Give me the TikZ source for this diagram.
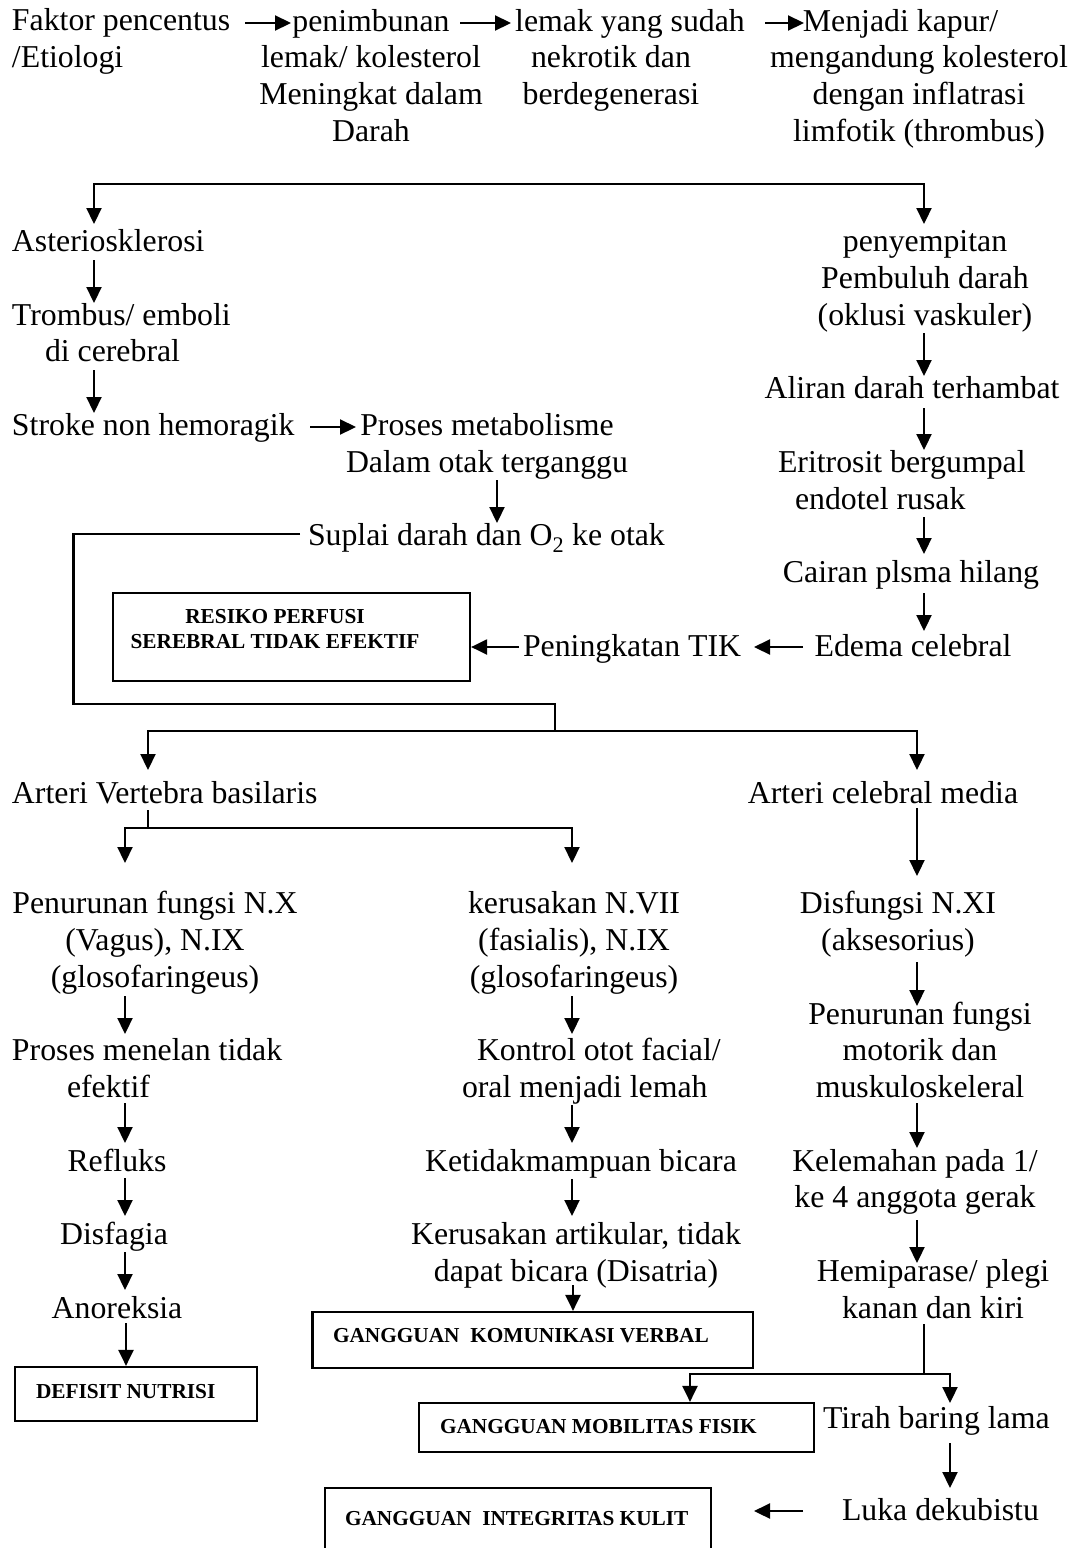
\documentclass[tikz,border=0pt]{standalone}
\usepackage{fontspec}
\setmainfont{Liberation Serif}
\usetikzlibrary{arrows.meta}
\newcommand\bigfnt{\fontsize{31.8pt}{36.78pt}\selectfont}
\newcommand\boxfnt{\fontsize{21.3pt}{25pt}\selectfont\bfseries}
\begin{document}
\begin{tikzpicture}[x=1pt,y=-1pt,
  tc/.style={font=\bigfnt,inner sep=0pt,outer sep=0pt,anchor=north,yshift=25.75pt,align=center},
  tl/.style={tc,anchor=north west,align=left},
  bc/.style={font=\boxfnt,inner sep=0pt,outer sep=0pt,anchor=north,yshift=17.5pt,align=center},
  bl/.style={bc,anchor=north west,align=left},
  bx/.style={draw,line width=2.2pt,inner sep=0pt,outer sep=1.1pt,rectangle},
  ln/.style={line width=2.2pt},
  arr/.style={line width=2.2pt,-{Triangle[length=16pt,width=15pt]}}]
\fill[white] (0,0) rectangle (1077,1548);
\useasboundingbox (0,0) rectangle (1077,1548);

% ---------- row 1 ----------
\node[tl] (fak) at (12,31) {\strut Faktor pencentus\\/Etiologi};
\node[tc] (pen) at (371,31) {\strut penimbunan\\lemak/ kolesterol\\Meningkat dalam\\Darah};
\node[tc] (lem) at (611,31) {\strut\mbox{}\hspace*{38pt}lemak yang sudah\\nekrotik dan\\berdegenerasi};
\node[tc] (kap) at (919,31) {\strut Menjadi kapur/\hspace*{37pt}\mbox{}\\mengandung kolesterol\\dengan inflatrasi\\limfotik (thrombus)};
\coordinate (r1a) at (245,23); \coordinate (r1b) at (291,23);
\coordinate (r2a) at (460,23); \coordinate (r2b) at (511,23);
\coordinate (r3a) at (765,23); \coordinate (r3b) at (804,23);
\draw[arr] (r1a) -- (r1b);
\draw[arr] (r2a) -- (r2b);
\draw[arr] (r3a) -- (r3b);

% split
\coordinate (t0) at (509,184);
\coordinate (astertop) at (94,224);
\coordinate (penytop) at (924,224);
\draw[arr] (t0) -| (astertop);
\draw[arr] (t0) -| (penytop);

% ---------- left upper ----------
\node[tl] (aster) at (12,251.7) {\strut Asteriosklerosi};
\node[tl] (tromb) at (12,325.2) {\strut Trombus/ emboli\\\hspace*{33pt}di cerebral};
\node[tl] (stroke) at (12,435.6) {\strut Stroke non hemoragik};
\node[tc] (proses) at (487,435.6) {\strut Proses metabolisme\\Dalam otak terganggu};
\node[tl] (suplai) at (308,545.9) {\strut Suplai darah dan O\textsubscript{2} ke otak};
\coordinate (a1a) at (94,260); \coordinate (a1b) at (94,303);
\coordinate (a2a) at (94,370); \coordinate (a2b) at (94,413);
\coordinate (a3a) at (310,427); \coordinate (a3b) at (356,427);
\coordinate (a4a) at (497,480); \coordinate (a4b) at (497,523);
\draw[arr] (a1a) -- (a1b);
\draw[arr] (a2a) -- (a2b);
\draw[arr] (a3a) -- (a3b);
\draw[arr] (a4a) -- (a4b);

% ---------- right upper ----------
\node[tc] (peny) at (925,251.7) {\strut penyempitan\\Pembuluh darah\\(oklusi vaskuler)};
\node[tc] (aliran) at (912,398.8) {\strut Aliran darah terhambat};
\node[tl] (eri) at (778,472.4) {\strut Eritrosit bergumpal\\\hspace*{17pt}endotel rusak};
\node[tc] (cairan) at (911,582.7) {\strut Cairan plsma hilang};
\node[tc] (edema) at (913,656.3) {\strut Edema celebral};
\node[tl] (tik) at (523,656.3) {\strut Peningkatan TIK};
\coordinate (b1a) at (924,333); \coordinate (b1b) at (924,376);
\coordinate (b2a) at (924,408); \coordinate (b2b) at (924,450);
\coordinate (b3a) at (924,517); \coordinate (b3b) at (924,554);
\coordinate (b4a) at (924,593); \coordinate (b4b) at (924,631);
\coordinate (b5a) at (803,647); \coordinate (b5b) at (754,647);
\coordinate (b6a) at (519,647);
\draw[arr] (b1a) -- (b1b);
\draw[arr] (b2a) -- (b2b);
\draw[arr] (b3a) -- (b3b);
\draw[arr] (b4a) -- (b4b);
\draw[arr] (b5a) -- (b5b);

\node[bx,minimum width=357pt,minimum height=88pt] (resiko) at (291.5,637) {};
\node[bc] (resikot) at (275,623) {\strut RESIKO PERFUSI\\SEREBRAL TIDAK EFEKTIF};
\draw[arr] (b6a) -- (b6a -| resiko.east);

% suplai connector
\coordinate (s0) at (300,534);
\coordinate (s1) at (73.5,704);
\coordinate (s2) at (555,731);
\coordinate (avbtop) at (148,770);
\coordinate (acmtop) at (917,770);
\draw[ln] (s0) -| (s1) -| (s2);
\draw[arr] (s2) -| (avbtop);
\draw[arr] (s2) -| (acmtop);

% ---------- arteri ----------
\node[tl] (avb) at (12,803.4) {\strut Arteri Vertebra basilaris};
\node[tc] (acm) at (883,803.4) {\strut Arteri celebral media};
\coordinate (v0) at (148,810);
\coordinate (v1) at (148,828);
\coordinate (pfxtop) at (125,863);
\coordinate (ker7top) at (572,863);
\draw[ln] (v0) -- (v1);
\draw[arr] (v1) -| (pfxtop);
\draw[arr] (v1) -| (ker7top);
\coordinate (c0a) at (917,808); \coordinate (c0b) at (917,876);
\draw[arr] (c0a) -- (c0b);

% ---------- column 1 ----------
\node[tc] (pfx) at (155,913.7) {\strut Penurunan fungsi N.X\\(Vagus), N.IX\\(glosofaringeus)};
\node[tl] (menelan) at (12,1060.8) {\strut Proses menelan tidak\\\hspace*{55pt}efektif};
\node[tc] (refluks) at (117,1171.2) {\strut Refluks};
\node[tc] (disfagia) at (114,1244.7) {\strut Disfagia};
\node[tc] (anor) at (117,1318.3) {\strut Anoreksia};
\node[bx,minimum width=242pt,minimum height=54pt] (defisit) at (136,1394) {};
\node[bl] (defisitt) at (36,1398) {\strut DEFISIT NUTRISI};
\coordinate (d1a) at (125,996);  \coordinate (d1b) at (125,1034);
\coordinate (d2a) at (125,1103); \coordinate (d2b) at (125,1143);
\coordinate (d3a) at (125,1178); \coordinate (d3b) at (125,1216);
\coordinate (d4a) at (125,1252); \coordinate (d4b) at (125,1290);
\coordinate (d5a) at (126,1323);
\draw[arr] (d1a) -- (d1b);
\draw[arr] (d2a) -- (d2b);
\draw[arr] (d3a) -- (d3b);
\draw[arr] (d4a) -- (d4b);
\draw[arr] (d5a) -- (d5a |- defisit.north);

% ---------- column 2 ----------
\node[tc] (ker7) at (574,913.7) {\strut kerusakan N.VII\\(fasialis), N.IX\\(glosofaringeus)};
\node[tl] (kontrol) at (462,1060.8) {\strut\mbox{}\hspace*{15pt}Kontrol otot facial/\\oral menjadi lemah};
\node[tc] (ketid) at (581,1171.2) {\strut Ketidakmampuan bicara};
\node[tc] (kerart) at (576,1244.7) {\strut Kerusakan artikular, tidak\\dapat bicara (Disatria)};
\node[bx,minimum width=440.5pt,minimum height=56pt] (kom) at (532.75,1340) {};
\node[bl] (komt) at (333,1342) {\strut GANGGUAN\ \ KOMUNIKASI VERBAL};
\coordinate (e1a) at (572,996);  \coordinate (e1b) at (572,1034);
\coordinate (e2a) at (572,1105); \coordinate (e2b) at (572,1143);
\coordinate (e3a) at (572,1179); \coordinate (e3b) at (572,1216);
\coordinate (e4a) at (573,1285);
\draw[arr] (e1a) -- (e1b);
\draw[arr] (e2a) -- (e2b);
\draw[arr] (e3a) -- (e3b);
\draw[arr] (e4a) -- (e4a |- kom.north);

% ---------- column 3 ----------
\node[tc] (disf) at (898,913.7) {\strut Disfungsi N.XI\\(aksesorius)};
\node[tc] (pfm) at (920,1024.1) {\strut Penurunan fungsi\\motorik dan\\muskuloskeleral};
\node[tc] (kel) at (915,1171.2) {\strut Kelemahan pada 1/\\ke 4 anggota gerak};
\node[tc] (hemi) at (933,1281.5) {\strut Hemiparase/ plegi\\kanan dan kiri};
\coordinate (f1a) at (917,962);  \coordinate (f1b) at (917,1006);
\coordinate (f2a) at (917,1103); \coordinate (f2b) at (917,1148);
\coordinate (f3a) at (917,1220); \coordinate (f3b) at (917,1263);
\draw[arr] (f1a) -- (f1b);
\draw[arr] (f2a) -- (f2b);
\draw[arr] (f3a) -- (f3b);

\node[bx,minimum width=395pt,minimum height=49pt] (mob) at (616.5,1427.5) {};
\node[bl] (mobt) at (440,1433) {\strut GANGGUAN MOBILITAS FISIK};
\node[tl] (tirah) at (823,1428.6) {\strut Tirah baring lama};
\coordinate (h0) at (924,1324);
\coordinate (h1) at (924,1374);
\coordinate (mobtop) at (690,1374);
\coordinate (tirahtop) at (950,1403);
\draw[ln] (h0) -- (h1);
\draw[arr] (h1) -- (mobtop) -- (mobtop |- mob.north);
\draw[arr] (h1) -| (tirahtop);

\node[tl] (luka) at (842,1520) {\strut Luka dekubistu};
\node[bx,minimum width=386pt,minimum height=80pt] (integ) at (518,1528) {};
\node[bl] (integt) at (345,1525) {\strut GANGGUAN\ \ INTEGRITAS KULIT};
\coordinate (g1a) at (950,1443); \coordinate (g1b) at (950,1488);
\coordinate (g2a) at (803,1511); \coordinate (g2b) at (754,1511);
\draw[arr] (g1a) -- (g1b);
\draw[arr] (g2a) -- (g2b);
\end{tikzpicture}
\end{document}
